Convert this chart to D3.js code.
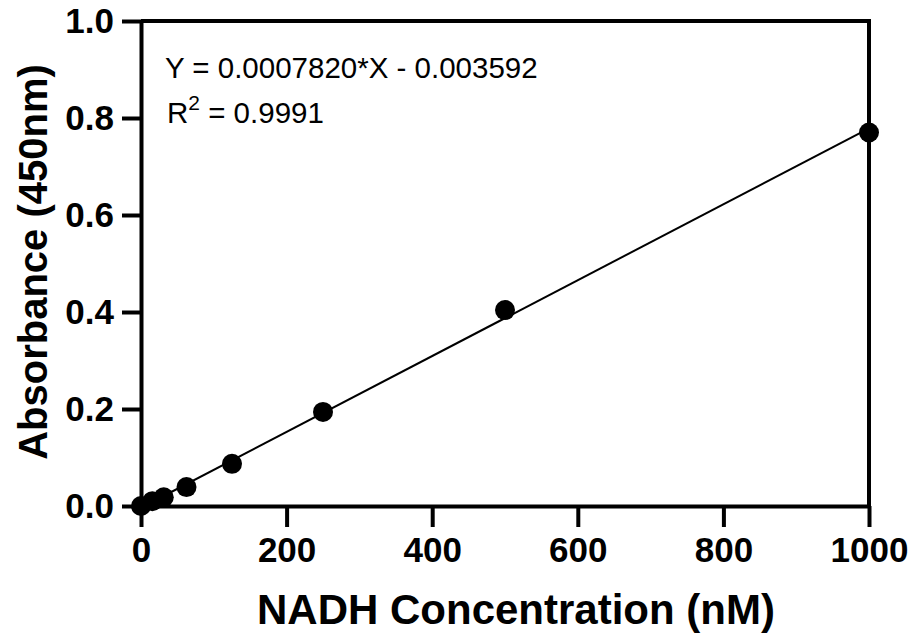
<html>
<head>
<title>NADH standard curve</title>
<script src="https://cdn.jsdelivr.net/npm/d3@7"></script>
<style>
  body { margin: 0; background: #fff; }
  text { font-family: Arial, "Liberation Sans", sans-serif; }
</style>
</head>
<body>
<div id="vis_container"></div>
<script>

    // data
    var concentration = [0, 15.625, 31.25, 62.5, 125, 250, 500, 1000];
    var absorbance = [0.000, 0.010, 0.018, 0.039, 0.087, 0.194, 0.404, 0.770];
    var xTicks = [0, 200, 400, 600, 800, 1000];
    var yTicks = [0.0, 0.2, 0.4, 0.6, 0.8, 1.0];
    var fitSlope = 0.0007820;
    var fitIntercept = -0.003592;
    var fitRange = [0, 1000];

    var width = 914, height = 634;
    var mLeft = 141, mRight = 869, mTop = 21, mBottom = 506;

    var svg = d3.select("#vis_container")
        .append("svg")
        .attr("width", width)
        .attr("height", height);

    var x = d3.scaleLinear().domain([0, 1000]).range([mLeft, mRight]);
    var y = d3.scaleLinear().domain([0, 1]).range([mBottom, mTop]);

    // frame (top + right)
    svg.append("path")
        .attr("d", "M" + mLeft + "," + mTop + "H" + mRight + "V" + mBottom)
        .attr("fill", "none")
        .attr("stroke", "#000")
        .attr("stroke-width", 4);

    var xAxis = svg.append("g")
        .attr("transform", "translate(0," + mBottom + ")")
        .call(d3.axisBottom(x).tickValues(xTicks).tickFormat(d3.format("d")).tickSize(21).tickPadding(9).tickSizeOuter(0));

    var yAxis = svg.append("g")
        .attr("transform", "translate(" + mLeft + ",0)")
        .call(d3.axisLeft(y).tickValues(yTicks).tickFormat(d3.format(".1f")).tickSize(19).tickPadding(8).tickSizeOuter(0));

    [xAxis, yAxis].forEach(function(g) {
        g.select(".domain").attr("stroke-width", 4);
        g.selectAll(".tick line").attr("stroke-width", 4);
        g.selectAll(".tick text")
            .attr("fill", "#000")
            .style("font-size", "35px")
            .style("font-weight", "bold");
    });
    xAxis.selectAll(".tick text").attr("dy", "0.75em");

    // regression line
    svg.append("line")
        .attr("x1", x(fitRange[0]))
        .attr("y1", y(fitSlope * fitRange[0] + fitIntercept))
        .attr("x2", x(fitRange[1]))
        .attr("y2", y(fitSlope * fitRange[1] + fitIntercept))
        .attr("stroke", "#000")
        .attr("stroke-width", 2);

    // points
    svg.selectAll("circle.pt")
        .data(concentration)
        .enter().append("circle")
        .attr("class", "pt")
        .attr("cx", function(d) { return x(d); })
        .attr("cy", function(d, i) { return y(absorbance[i]); })
        .attr("r", 10)
        .attr("fill", "#000");

    // axis titles
    svg.append("text")
        .attr("x", 516)
        .attr("y", 624)
        .attr("text-anchor", "middle")
        .style("font-size", "42px")
        .style("font-weight", "bold")
        .text("NADH Concentration (nM)");

    svg.append("text")
        .attr("transform", "translate(47," + 262 + ") rotate(-90)")
        .attr("text-anchor", "middle")
        .style("font-size", "40px")
        .style("font-weight", "bold")
        .text("Absorbance (450nm)");

    // equation
    svg.append("text")
        .attr("x", 165)
        .attr("y", 78)
        .style("font-size", "29.5px")
        .text("Y = 0.0007820*X - 0.003592");

    var r2 = svg.append("text")
        .attr("x", 167)
        .attr("y", 123)
        .style("font-size", "29.5px");
    r2.append("tspan").text("R");
    r2.append("tspan").attr("dy", -13).style("font-size", "21px").text("2");
    r2.append("tspan").attr("dy", 13).text(" = 0.9991");

</script>
</body>
</html>
